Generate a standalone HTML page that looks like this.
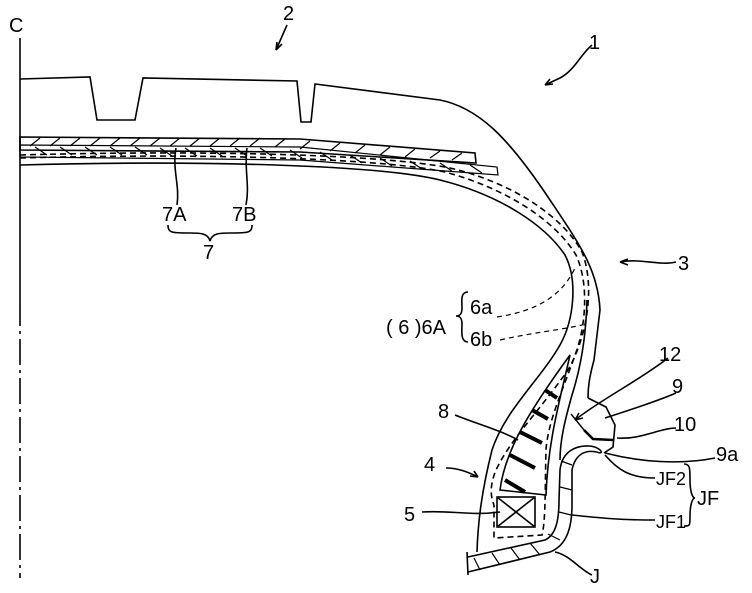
<!DOCTYPE html>
<html><head><meta charset="utf-8"><style>
html,body{margin:0;padding:0;background:#fff}
svg{display:block}
text{font-family:"Liberation Sans",sans-serif;font-size:20px;fill:#000}
</style></head><body>
<svg width="752" height="593" viewBox="0 0 752 593" xmlns="http://www.w3.org/2000/svg" fill="none" stroke="#000" stroke-width="1.6">
<line x1="20" y1="38" x2="20" y2="300"/>
<line x1="20" y1="300" x2="20" y2="578" stroke-dasharray="26,5,3,5"/>
<text x="9" y="32" stroke="none">C</text>
<path d="M20 79 L90 77 L97 120 L135 120 L143 78 L297 81 L301 122 L311 122 L315 84 L440 100 C480 108 510 140 550 200 C580 245 598 270 600 310 L594 360 C590 375 588 385 588 398"/>
<path d="M588 398 L606 407 L615 425 L613 447 L604 453"/>
<path d="M584 430 L593 439 L613 440" stroke-width="2.6"/>
<path d="M571 414 L584 430" stroke-width="1.4"/>
<path d="M20 165 C200 160 380 165 440 180 C500 195 545 225 565 255 C578 280 574 320 560 345 C540 380 505 410 492 450 C482 490 478 520 477 552"/>
<path d="M587 300 C586 340 580 370 572 395 C565 420 560 440 560 460"/>
<path d="M20 158 C200 153 380 158 445 172 C505 188 555 220 576 255 C590 285 585 330 575 355 C565 385 548 420 546 450 C545 480 546 520 542 535 L494 538 L494 505" stroke-dasharray="6,4"/>
<path d="M20 155 C200 150 380 154 450 168 C510 182 562 215 582 252 C595 285 588 335 568 370 C540 410 510 440 496 470 C490 485 490 495 494 505" stroke-dasharray="6,4"/>
<path d="M20 137 L300 139 L475 153 L476 163 L300 152 L20 150 Z"/>
<path d="M20 145 L300 147 L497 167 L498 175 L300 160 L20 157 Z" stroke-width="1.2"/>
<g stroke-width="1.2">
<path d="M30 146 l10 -8 M50 146 l10 -8 M70 146 l10 -8 M90 146 l10 -8 M110 146 l10 -8 M130 146 l10 -8 M150 146 l10 -8 M170 146 l10 -8 M190 146 l10 -8 M210 146 l10 -8 M230 146 l10 -8 M250 146 l10 -8 M275 147 l10 -8 M300 149 l10 -8 M330 151 l10 -8 M355 153 l10 -8 M380 155 l10 -8 M405 157 l10 -8 M430 158 l10 -7 M452 160 l10 -7"/>
<path d="M35 147 l12 8 M60 147 l12 8 M85 147 l12 8 M110 147 l12 8 M135 147 l12 8 M160 148 l12 8 M185 148 l12 8 M210 148 l12 8 M235 148 l12 8 M260 148 l12 8 M290 150 l12 8 M320 152 l12 8 M350 155 l12 8 M380 158 l12 8 M410 161 l12 8 M440 163 l12 8 M470 165 l12 8"/>
</g>
<path d="M500 490 C505 450 530 410 570 355 C560 400 548 440 546 495 Z"/>
<g stroke-width="4"><path d="M505 480 l20 12 M510 455 l25 13 M520 432 l22 11 M532 410 l16 9 M545 390 l12 8"/></g>
<rect x="497" y="497" width="38" height="30"/>
<path d="M497 497 L535 527 M535 497 L497 527"/>
<path d="M468 572 L550 552 C568 545 572 525 572 505 L572 470 C575 455 585 448 600 453"/>
<path d="M468 557 L545 540 C556 535 559 520 559 500 L560 470 C562 452 575 445 590 446 C598 447 604 452 600 453"/>
<path d="M467 552 L468 575"/>
<g stroke-width="1.2"><path d="M480 570 l-6 -12 M500 565 l-8 -12 M520 560 l-9 -12 M540 555 l-10 -12 M560 540 l-12 -6 M571 515 l-12 -3 M572 490 l-12 -3 M572 465 l-11 -4"/></g>
<path d="M287 25 L276 50 M276 50 l1 -8 M276 50 l6 -6"/>
<path d="M592 45 C580 55 575 70 560 78 L545 85 M545 85 l8 -1 M545 85 l5 -6"/>
<path d="M676 262 C660 266 640 258 620 262 M620 262 l8 -3 M620 262 l8 3"/>
<path d="M446 468 C458 468 468 472 478 477 M478 477 l-8 -1 M478 477 l-4 -6"/>
<path d="M455 415 C480 425 500 430 518 440"/>
<path d="M422 512 C450 510 470 516 500 512"/>
<path d="M668 358 C640 380 600 400 575 420 M575 420 l4 -7 M575 420 l8 -2"/>
<path d="M676 393 C660 400 630 410 605 418"/>
<path d="M676 428 C660 428 640 440 617 438"/>
<path d="M715 458 C680 465 640 462 605 453"/>
<path d="M655 478 C630 478 618 470 605 455"/>
<path d="M655 520 C620 520 600 518 572 515"/>
<path d="M592 575 C580 570 570 555 555 552"/>
<path d="M176 148 C172 170 180 185 177 205 M247 148 C244 170 250 185 246 205"/>
<path d="M168 225 c0 8 4 8 22 8 c10 0 18 0 20 8 c2 -8 10 -8 20 -8 c18 0 22 0 22 -8"/>
<path d="M497 317 C530 312 560 300 575 268" stroke-dasharray="5,4" stroke-width="1.2"/>
<path d="M500 340 C530 333 560 330 582 325" stroke-dasharray="5,4" stroke-width="1.2"/>
<path d="M468 292 c-8 0 -6 10 -6 16 c0 6 -2 8 -6 8 c4 0 6 2 6 8 c0 6 -2 18 6 18"/>
<path d="M684 464 c6 0 6 4 6 16 c0 10 2 18 5 18 c-3 0 -5 8 -5 18 c0 10 0 10 -6 10"/>
<g stroke="none" fill="#000">
<text x="283" y="20">2</text>
<text x="589" y="49">1</text>
<text x="678" y="270">3</text>
<text x="424" y="471">4</text>
<text x="438" y="418">8</text>
<text x="404" y="521">5</text>
<text x="659" y="361">12</text>
<text x="672" y="393">9</text>
<text x="674" y="431">10</text>
<text x="716" y="461">9a</text>
<text x="656" y="485" style="font-size:18px">JF2</text>
<text x="656" y="528" style="font-size:18px">JF1</text>
<text x="697" y="505">JF</text>
<text x="590" y="583">J</text>
<text x="162" y="221">7A</text>
<text x="232" y="221">7B</text>
<text x="203" y="259">7</text>
<text x="386" y="334">( 6 )6A</text>
<text x="470" y="314">6a</text>
<text x="470" y="346">6b</text>
</g>
</svg>
</body></html>
